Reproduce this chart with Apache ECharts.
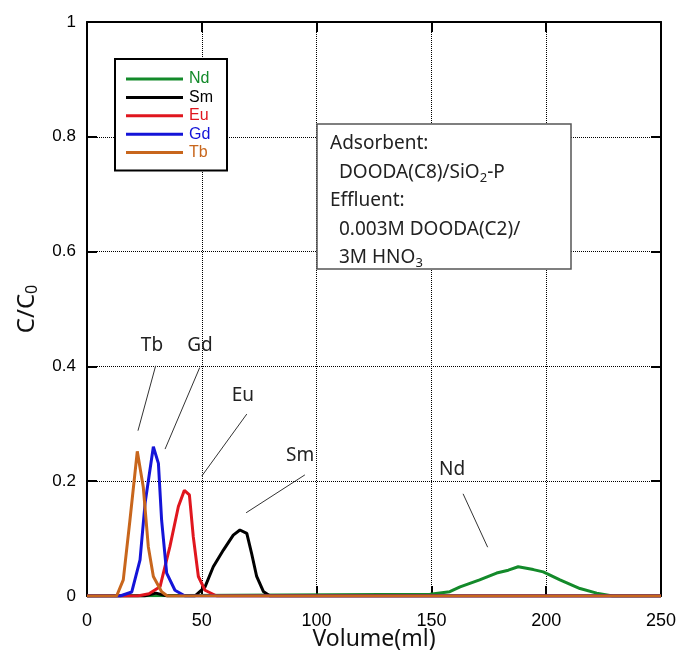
<!DOCTYPE html>
<html>
<head>
<meta charset="utf-8">
<script src="https://cdn.jsdelivr.net/npm/echarts@6/dist/echarts.min.js"></script>
<style>
    html, body { margin: 0; padding: 0; background: #fff; }
    #chart { width: 678px; height: 656px; }
</style>
</head>
<body>
<div id="chart"></div>
<script>
// 各元素の溶出曲線 (Volume ml, C/C0)
const ndVol = [0, 149.4, 158, 162.5, 171, 178.4, 183.5, 187.8, 194.4, 198.7, 206, 214.7, 222, 229, 250]
const ndC = [0, 0.003, 0.0075, 0.016, 0.028, 0.04, 0.045, 0.051, 0.046, 0.042, 0.028, 0.013, 0.005, 0, 0]

const smVol = [0, 25, 30, 35, 47, 51.4, 55, 59.4, 63.7, 66.6, 69.6, 71.7, 73.9, 76.8, 79.7, 250]
const smC = [0, 0, 0.005, 0, 0, 0.016, 0.051, 0.08, 0.106, 0.115, 0.109, 0.074, 0.034, 0.008, 0, 0]

const euVol = [0, 22, 27, 31.8, 36.1, 39.8, 42.4, 44.6, 46.3, 48.5, 51.4, 56.5, 250]
const euC = [0, 0, 0.004, 0.016, 0.086, 0.156, 0.184, 0.176, 0.103, 0.034, 0.01, 0, 0]

const gdVol = [0, 14.4, 19.5, 23.1, 25.3, 28.9, 31.1, 32.5, 34.7, 38.3, 42.7, 250]
const gdC = [0, 0, 0.007, 0.063, 0.162, 0.26, 0.231, 0.132, 0.04, 0.01, 0, 0]

const tbVol = [0, 12.9, 15.8, 18.7, 21.9, 24.5, 26.7, 28.9, 32.5, 35, 250]
const tbC = [0, 0, 0.028, 0.132, 0.252, 0.19, 0.086, 0.034, 0.0075, 0, 0]

const elements = ['Nd', 'Sm', 'Eu', 'Gd', 'Tb']
const colors = ['#138a2a', '#000000', '#e0161e', '#1414d8', '#c8661c']

// 引き出し線付きラベル [name, textV, textC, fromV, fromC, toV, toC]
const callouts = [
    ['Tb', 28.3, 0.436, 29.9, 0.401, 22.2, 0.288],
    ['Gd', 49.2, 0.436, 49.1, 0.398, 34.0, 0.256],
    ['Eu', 67.9, 0.350, 69.6, 0.317, 50.0, 0.209],
    ['Sm', 92.8, 0.244, 94.9, 0.211, 69.3, 0.145],
    ['Nd', 159.0, 0.220, 163.8, 0.178, 174.5, 0.085]
]

// 条件テキスト (1行ずつ, 字下げ)
const noteLines = [
    ['Adsorbent:', 0],
    ['DOODA(C8)/SiO{s|2}-P', 9],
    ['Effluent:', 0],
    ['0.003M DOODA(C2)/', 9],
    ['3M HNO{s|3}', 9]
]

const zip = (xs, ys) => xs.map((x, i) => [x, ys[i]])
const seriesData = [zip(ndVol, ndC), zip(smVol, smC), zip(euVol, euC), zip(gdVol, gdC), zip(tbVol, tbC)]

const chart = echarts.init(document.getElementById('chart'))

const axisCommon = {
    type: 'value',
    axisLine: { show: true, onZero: false, lineStyle: { color: '#000', width: 2 } },
    axisTick: { show: true, inside: true, length: 10, lineStyle: { color: '#000', width: 2 } },
    splitLine: { show: false }
}

chart.setOption({
    animation: false,
    backgroundColor: '#fff',
    grid: { left: 87, right: 17, top: 22, bottom: 60, outerBoundsMode: 'none' },
    legend: {
        orient: 'vertical',
        left: 115,
        top: 59,
        padding: [12, 14, 10, 11],
        borderColor: '#000',
        borderWidth: 2,
        backgroundColor: '#fff',
        itemWidth: 57,
        itemHeight: 3,
        itemGap: 2.4,
        icon: 'rect',
        textStyle: { fontFamily: 'Liberation Sans', fontSize: 16, lineHeight: 15, padding: [0, 0, 0, 1] },
        data: elements.map((name, i) => ({ name, textStyle: { color: colors[i] } }))
    },
    xAxis: [
        {
            ...axisCommon,
            position: 'bottom',
            min: 0,
            max: 250,
            interval: 50,
            axisLabel: { color: '#000', fontFamily: 'Liberation Sans', fontSize: 18, margin: 16 },
            splitLine: { show: true, lineStyle: { type: 'dotted', color: '#000', width: 1 } },
            name: 'Volume(ml)',
            nameLocation: 'middle',
            nameGap: 32,
            nameMoveOverlap: false,
            nameTextStyle: { color: '#111', fontFamily: 'Noto Sans', fontSize: 23 }
        },
        {
            ...axisCommon,
            position: 'top',
            min: 0,
            max: 250,
            interval: 50,
            axisLabel: { show: false }
        }
    ],
    yAxis: [
        {
            ...axisCommon,
            position: 'left',
            min: 0,
            max: 1,
            interval: 0.2,
            axisLabel: { color: '#000', fontFamily: 'Liberation Sans', fontSize: 17, margin: 11 },
            splitLine: { show: true, lineStyle: { type: 'dotted', color: '#000', width: 1 } },
            name: '{a|C/C}{b|0}',
            nameLocation: 'middle',
            nameRotate: 90,
            nameGap: 47,
            nameTextStyle: {
                rich: {
                    a: { color: '#111', fontFamily: 'Noto Sans', fontSize: 24 },
                    b: { color: '#111', fontFamily: 'Noto Sans', fontSize: 16, padding: [10, 0, 0, 0] }
                }
            }
        },
        {
            ...axisCommon,
            position: 'right',
            min: 0,
            max: 1,
            interval: 0.2,
            axisLabel: { show: false }
        }
    ],
    series: elements.map((name, i) => ({
        name,
        type: 'line',
        data: seriesData[i],
        showSymbol: false,
        symbol: 'none',
        lineStyle: { color: colors[i], width: 3 },
        itemStyle: { color: colors[i] },
        z: 3 + i
    }))
})

// 引き出し線とラベル、条件テキストボックス
const graphics = []
callouts.forEach(([name, tv, tc, fv, fc, ev, ec]) => {
    const t = chart.convertToPixel({ gridIndex: 0 }, [tv, tc])
    const a = chart.convertToPixel({ gridIndex: 0 }, [fv, fc])
    const b = chart.convertToPixel({ gridIndex: 0 }, [ev, ec])
    graphics.push({
        type: 'text',
        x: t[0],
        y: t[1],
        z: 20,
        style: { text: name, fill: '#222', font: '19px "Noto Sans"', align: 'center', verticalAlign: 'middle' }
    })
    graphics.push({
        type: 'line',
        z: 20,
        shape: { x1: a[0], y1: a[1], x2: b[0], y2: b[1] },
        style: { stroke: '#333', lineWidth: 1 }
    })
})

graphics.push({
    type: 'rect',
    z: 30,
    shape: { x: 317, y: 124, width: 254, height: 145 },
    style: { fill: '#fff', stroke: '#555', lineWidth: 1.5 }
})
noteLines.forEach(([text, indent], i) => {
    graphics.push({
        type: 'text',
        z: 31,
        x: 330 + indent,
        y: 144 + i * 28.4,
        style: {
            text,
            font: '19px "Noto Sans"',
            fill: '#222',
            verticalAlign: 'middle',
            rich: {
                s: { font: '13px "Noto Sans"', fill: '#222', padding: [12, 0, 0, 0] }
            }
        }
    })
})

chart.setOption({ graphic: graphics })
</script>
</body>
</html>
